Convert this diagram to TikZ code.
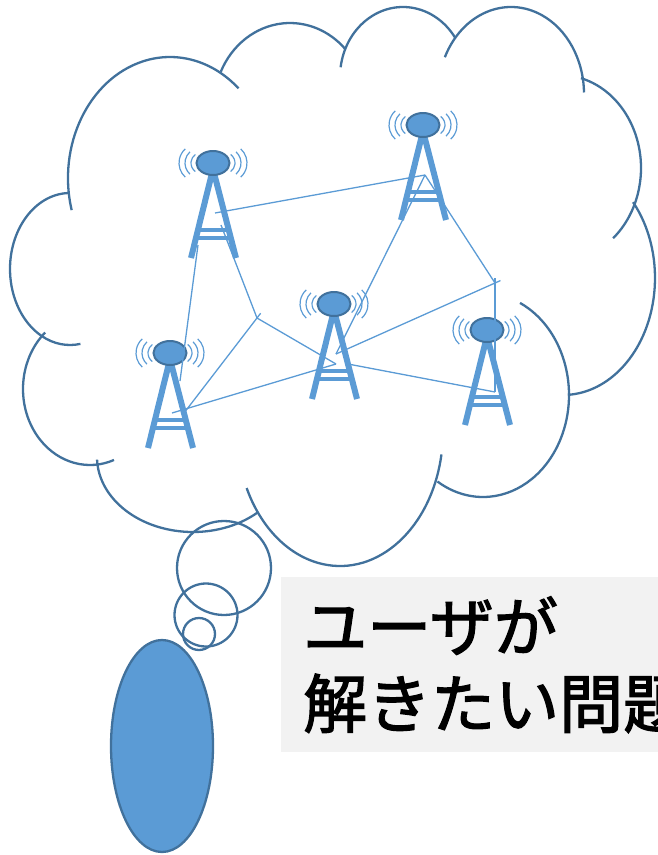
\documentclass[tikz,border=0pt]{standalone}
\usepackage{fontspec}
\newfontfamily\jpfont[FakeBold=2]{Noto Sans CJK JP}
\usetikzlibrary{shapes.geometric}

\definecolor{towerblue}{HTML}{5B9BD5}
\definecolor{edgeblue}{HTML}{41719C}
\definecolor{boxgray}{HTML}{F2F2F2}

\begin{document}
\begin{tikzpicture}[
	x=1pt, y=-1pt,
		puff/.style={
			draw=edgeblue,
			line width=2.3pt
		},
		bubble/.style={
			circle,
			draw=edgeblue,
			line width=2.3pt,
			inner sep=0pt
		},
		user/.style={
			ellipse,
			fill=towerblue,
			draw=edgeblue,
			line width=2.3pt,
			inner sep=0pt
		},
		antenna/.style={
			ellipse,
			fill=towerblue,
			draw=edgeblue,
			line width=2pt,
			inner sep=0pt,
			minimum width=33pt,
			minimum height=24pt
		},
		leg/.style={
			draw=towerblue,
			line width=6pt
		},
		rung/.style={
			draw=towerblue,
			line width=4pt
		},
		wave/.style={
			draw=towerblue,
			line width=1.2pt
		},
		link/.style={
			draw=towerblue,
			line width=1.3pt
		},
		taskbox/.style={
			rectangle,
			fill=boxgray,
			anchor=north west,
			minimum height=175pt,
			text width=400pt,
			inner xsep=22pt,
			align=left,
			font=\jpfont\fontsize{64pt}{77pt}\selectfont
		},
		tower/.pic={
			% legs and rungs
			\draw[leg] (-22,95) -- (0,6) -- (23,95);
			\draw[rung] (-15.1,67) -- (15.8,67);
			\draw[rung] (-17.1,75) -- (17.8,75);
			% radio waves: gap, radius, half angle
			\foreach \d/\R/\a in {22/10.5/54,28/15/48,34/19/48} {
				\draw[wave] ({-\d+\R},0) ++({180-\a}:\R) arc[start angle=180-\a, end angle=180+\a, radius=\R];
				\draw[wave] ({\d-\R},0) ++({-\a}:\R) arc[start angle=-\a, end angle=\a, radius=\R];
			}
			\node[antenna] (-top) at (0,0) {};
			% link ends
			\coordinate (-n) at (2,50);
			\coordinate (-c) at (2,60);
			\coordinate (-m) at (8,62);
			\coordinate (-r) at (14,60);
			\coordinate (-l) at (-15,82);
			\coordinate (-u) at (10,28);
		}
	]
	\useasboundingbox (0,0) rectangle (658,855);
	\clip (0,0) rectangle (658,855);

	% Cloud outline, one arc per puff
	\foreach \cx/\cy/\rx/\ry/\a/\b in {
		170/178/102/121/164.6/312.2,
		290/106/76/83/204.3/316.5,
		403/77/63/70/188/326,
		511/94/73/87/205/359,
		560/168/81/93/285/409,
		563/278/92/117/319.6/447,
		483/395/86/102/295.5/482,
		340/431/103/135/10/155,
		193/457/96/75/48/178,
		90/389/67/76/228/69,
		70/269/60/76/268/80}
		\draw[puff] (\cx,\cy) ++({\rx*cos(\a)},{\ry*sin(\a)})
			arc[start angle=\a, end angle=\b, x radius=\rx, y radius=\ry];

	% Base stations
	\pic (t1) at (213,163) {tower};
	\pic (t2) at (423,125) {tower};
	\pic (t3) at (334,304) {tower};
	\pic (t4) at (170,353) {tower};
	\pic (t5) at (487,330) {tower};

	% Relay points
	\coordinate (hubL) at (257,318);
	\coordinate (hubR) at (495,283);

	% Links
	\draw[link] (t1-n) -- (t2-n);
	\draw[link] (t3-n) -- (t2-n);
	\draw[link] (t2-n) -- (hubR);
	\draw[link, shorten >=-5pt] (t5-m) -- (hubR);
	\draw[link, shorten >=-6pt] (t3-n) -- (hubR);
	\draw[link] (t3-r) -- (t5-m);
	\draw[link] (t1-m) -- (hubL);
	\draw[link, shorten >=-6pt] (t4-r) -- (hubL);
	\draw[link] (hubL) -- (t3-c);
	\draw[link] (t3-c) -- (t4-c);
	\draw[link] (t1-l) -- (t4-u);

	% Thought bubbles
	\node[bubble, minimum size=94pt] (b1) at (224,568) {};
	\node[bubble, minimum size=63pt] (b2) at (206,615) {};
	\node[bubble, minimum size=32pt] (b3) at (199,634) {};

	% Person
	\node[user, minimum width=102pt, minimum height=212pt] (person) at (162,746) {};

	% Caption
	\node[taskbox] (task) at (281,577) {ユーザが\\解きたい問題};
\end{tikzpicture}
\end{document}
